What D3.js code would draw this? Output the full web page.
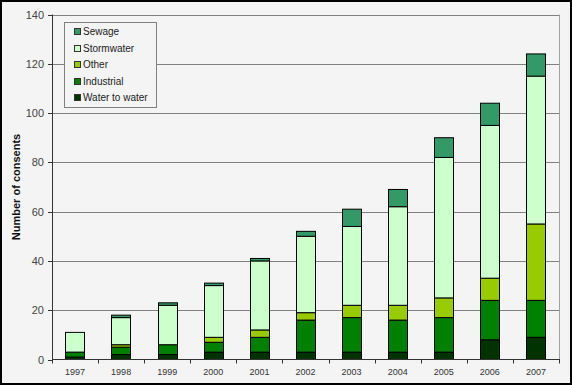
<!DOCTYPE html>
<html>
<head>
<meta charset="utf-8">
<script src="https://cdn.jsdelivr.net/npm/d3@7"></script>
<style>
  body { margin: 0; background: #fff; }
  svg { display: block; font-family: "Liberation Sans", Arial, sans-serif; }
  .grid { stroke: #808080; stroke-width: 1; }
  .tick-label { font-size: 11px; fill: #444; }
  .year-label { font-size: 9px; fill: #333; }
  .legend-text { font-size: 10px; fill: #222; }
</style>
</head>
<body>
<svg width="572" height="385"></svg>
<script>
// Data
const years = ["1997", "1998", "1999", "2000", "2001", "2002", "2003", "2004", "2005", "2006", "2007"];
const waterToWater = [1, 2, 2, 3, 3, 3, 3, 3, 3, 8, 9];
const industrial   = [2, 3, 4, 4, 6, 13, 14, 13, 14, 16, 15];
const other        = [0, 1, 0, 2, 3, 3, 5, 6, 8, 9, 31];
const stormwater   = [8, 11, 16, 21, 28, 31, 32, 40, 57, 62, 60];
const sewage       = [0, 1, 1, 1, 1, 2, 7, 7, 8, 9, 9];
const yTicks = [0, 20, 40, 60, 80, 100, 120, 140];

// stacking order, bottom to top
const seriesNames = ["Water to water", "Industrial", "Other", "Stormwater", "Sewage"];
const seriesValues = [waterToWater, industrial, other, stormwater, sewage];
const colors = ["#003300", "#008000", "#99cc00", "#ccffcc", "#339966"];

const svg = d3.select("svg");
const plot = {left: 52, right: 559, top: 14.5, bottom: 359.5};

// background and outer frame
svg.append("rect")
    .attr("x", 1).attr("y", 1)
    .attr("width", 570).attr("height", 383)
    .attr("fill", "#f4f4f4")
    .attr("stroke", "#000")
    .attr("stroke-width", 2);

const x = d3.scaleBand()
    .domain(years)
    .range([plot.left, plot.right])
    .paddingInner(0.58)
    .paddingOuter(0.29);

const y = d3.scaleLinear()
    .domain([0, 140])
    .range([plot.bottom, plot.top]);

// gridlines
svg.selectAll(".grid")
    .data(yTicks.filter(d => d > 0))
    .enter()
    .append("line")
    .attr("class", "grid")
    .attr("x1", plot.left)
    .attr("x2", plot.right)
    .attr("y1", d => Math.round(y(d)) + 0.5)
    .attr("y2", d => Math.round(y(d)) + 0.5);

// right edge of plot area
svg.append("line")
    .attr("x1", plot.right + 0.5).attr("x2", plot.right + 0.5)
    .attr("y1", y(140)).attr("y2", plot.bottom)
    .attr("stroke", "#a0a0a0");

// stacked bars
const table = years.map((yr, i) => {
    const row = {year: yr};
    seriesNames.forEach((s, k) => row[s] = seriesValues[k][i]);
    return row;
});
const stack = d3.stack().keys(seriesNames)(table);

stack.forEach((layer, k) => {
    svg.append("g")
        .selectAll("rect")
        .data(layer.filter(d => d[1] - d[0] > 0))
        .enter()
        .append("rect")
        .attr("x", d => Math.round(x(d.data.year)) + 0.5)
        .attr("width", Math.round(x.bandwidth()))
        .attr("y", d => y(d[1]))
        .attr("height", d => y(d[0]) - y(d[1]))
        .attr("fill", colors[k])
        .attr("stroke", "#000")
        .attr("stroke-width", 1);
});

// y axis
const yAxis = svg.append("g");
yAxis.append("line")
    .attr("x1", plot.left + 0.5).attr("x2", plot.left + 0.5)
    .attr("y1", plot.top).attr("y2", plot.bottom)
    .attr("stroke", "#333");
yAxis.selectAll(".ytick")
    .data(yTicks)
    .enter()
    .append("line")
    .attr("x1", plot.left - 4).attr("x2", plot.left)
    .attr("y1", d => Math.round(y(d)) + 0.5)
    .attr("y2", d => Math.round(y(d)) + 0.5)
    .attr("stroke", "#333");
yAxis.selectAll(".tick-label")
    .data(yTicks)
    .enter()
    .append("text")
    .attr("class", "tick-label")
    .attr("x", plot.left - 8)
    .attr("y", d => y(d) + 4)
    .attr("text-anchor", "end")
    .text(d => d);

// x axis
const xAxis = svg.append("g");
xAxis.append("line")
    .attr("x1", plot.left).attr("x2", plot.right + 1)
    .attr("y1", plot.bottom).attr("y2", plot.bottom)
    .attr("stroke", "#333");
const bounds = years.map(d => x(d) - x.step() * x.paddingOuter()).concat([plot.right]);
xAxis.selectAll(".xtick")
    .data(bounds)
    .enter()
    .append("line")
    .attr("x1", d => Math.round(d) + 0.5)
    .attr("x2", d => Math.round(d) + 0.5)
    .attr("y1", plot.bottom)
    .attr("y2", plot.bottom + 4)
    .attr("stroke", "#333");
xAxis.selectAll(".year-label")
    .data(years)
    .enter()
    .append("text")
    .attr("class", "year-label")
    .attr("x", d => x(d) + x.bandwidth() / 2)
    .attr("y", 375)
    .attr("text-anchor", "middle")
    .text(d => d);

// y axis title
svg.append("text")
    .attr("transform", "translate(20," + ((plot.top + plot.bottom) / 2) + ") rotate(-90)")
    .attr("text-anchor", "middle")
    .attr("font-size", "11px")
    .attr("font-weight", "bold")
    .attr("fill", "#111")
    .text("Number of consents");

// legend (top to bottom: Sewage ... Water to water)
const legend = svg.append("g");
legend.append("rect")
    .attr("x", 64.5).attr("y", 22.5)
    .attr("width", 92).attr("height", 85)
    .attr("fill", "#f4f4f4")
    .attr("stroke", "#808080");
const legendOrder = seriesNames.map((s, k) => k).reverse();
legendOrder.forEach((k, i) => {
    const cy = 31.5 + i * 16.6;
    legend.append("rect")
        .attr("x", 74.5).attr("y", Math.round(cy - 3.5) + 0.5)
        .attr("width", 6).attr("height", 6)
        .attr("fill", colors[k])
        .attr("stroke", "#333");
    legend.append("text")
        .attr("class", "legend-text")
        .attr("x", 83)
        .attr("y", cy + 3.5)
        .text(seriesNames[k]);
});
</script>
</body>
</html>
